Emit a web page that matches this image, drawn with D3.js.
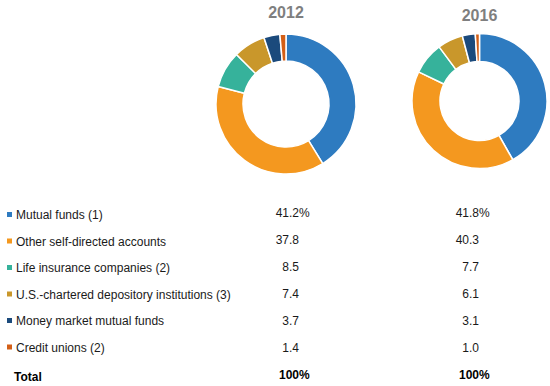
<!DOCTYPE html>
<html>
<head>
<meta charset="utf-8">
<script src="https://cdn.jsdelivr.net/npm/d3@7"></script>
<style>
  html, body { margin: 0; padding: 0; background: #fff; }
  svg { display: block; font-family: "Liberation Sans", Arial, sans-serif; }
</style>
</head>
<body>
<script>
const categories = [
  "Mutual funds (1)",
  "Other self-directed accounts",
  "Life insurance companies (2)",
  "U.S.-chartered depository institutions (3)",
  "Money market mutual funds",
  "Credit unions (2)"
];
const years = ["2012", "2016"];
const values2012 = [41.2, 37.8, 8.5, 7.4, 3.7, 1.4];
const values2016 = [41.8, 40.3, 7.7, 6.1, 3.1, 1.0];
const labels2012 = ["41.2", "37.8", "8.5", "7.4", "3.7", "1.4"];
const labels2016 = ["41.8", "40.3", "7.7", "6.1", "3.1", "1.0"];
const totalLabel = "Total";
const totals = ["100", "100"];
const colors = ["#2e7bc0", "#f4981f", "#36b29b", "#c9972b", "#1b4a7c", "#d35f17"];

const width = 550, height = 386;

const svg = d3.select("body").append("svg")
    .attr("width", width)
    .attr("height", height);

const color = d3.scaleOrdinal().domain(categories).range(colors);

const pie = d3.pie().sort(null).value(d => d.v);

// donuts, one per year
const donuts = [
  {year: years[0], values: values2012, cx: 286, cy: 104, r0: 43, r1: 70, ty: 18},
  {year: years[1], values: values2016, cx: 479.5, cy: 101, r0: 39.5, r1: 67.5, ty: 20.5}
];

donuts.forEach(dn => {
  const g = svg.append("g").attr("transform", `translate(${dn.cx},${dn.cy})`);
  const arc = d3.arc().innerRadius(dn.r0).outerRadius(dn.r1);
  g.selectAll("path")
    .data(pie(categories.map((c, i) => ({c, v: dn.values[i]}))))
    .join("path")
      .attr("d", arc)
      .attr("fill", d => color(d.data.c))
      .attr("stroke", "#fff")
      .attr("stroke-width", 1.5)
      .attr("stroke-linejoin", "round");

  svg.append("text")
      .attr("x", dn.cx)
      .attr("y", dn.ty)
      .attr("text-anchor", "middle")
      .attr("font-size", 16)
      .attr("font-weight", "bold")
      .attr("fill", "#7f7f7f")
      .text(dn.year);
});

// table below
const yLabel = d3.scaleLinear().domain([0, 1]).range([219, 245.5]);
const yValue = d3.scaleLinear().domain([0, 1]).range([216.8, 243.8]);
const colX = [299, 479];

const rows = svg.append("g").attr("font-size", 12).attr("fill", "#1a1a1a");

rows.selectAll("rect")
  .data(categories)
  .join("rect")
    .attr("x", 7)
    .attr("y", (d, i) => yLabel(i) - 7)
    .attr("width", 5)
    .attr("height", 5)
    .attr("fill", d => color(d));

rows.selectAll("text.cat")
  .data(categories)
  .join("text")
    .attr("class", "cat")
    .attr("x", 16)
    .attr("y", (d, i) => yLabel(i))
    .text(d => d);

[labels2012, labels2016].forEach((labs, k) => {
  const t = rows.append("g");
  t.selectAll("text.v")
    .data(labs)
    .join("text")
      .attr("class", "v")
      .attr("x", colX[k])
      .attr("y", (d, i) => yValue(i))
      .attr("text-anchor", "end")
      .text(d => d);
  t.append("text")
      .attr("x", colX[k])
      .attr("y", yValue(0))
      .text("%");
  t.append("text")
      .attr("x", colX[k])
      .attr("y", yValue(6))
      .attr("text-anchor", "end")
      .attr("font-weight", "bold")
      .attr("fill", "#000")
      .text(totals[k]);
  t.append("text")
      .attr("x", colX[k])
      .attr("y", yValue(6))
      .attr("font-weight", "bold")
      .attr("fill", "#000")
      .text("%");
});

rows.append("text")
    .attr("x", 14)
    .attr("y", yLabel(6) + 3)
    .attr("font-weight", "bold")
    .attr("fill", "#000")
    .text(totalLabel);
</script>
</body>
</html>
